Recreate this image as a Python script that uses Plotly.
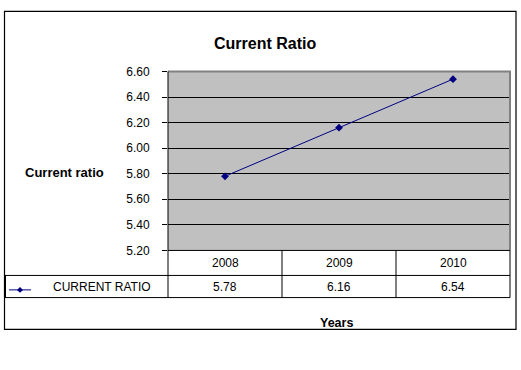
import plotly.graph_objects as go

W, H = 521, 370

# ---- data ----
years = ["2008", "2009", "2010"]
current_ratio = [5.78, 6.16, 6.54]
series_name = "CURRENT RATIO"
title_text = "Current Ratio"
y_title = "Current ratio"
x_title = "Years"
y_ticks = [5.20, 5.40, 5.60, 5.80, 6.00, 6.20, 6.40, 6.60]


def px(x):
    return x / W


def py(y):
    return (H - y) / H


FONT = "Liberation Sans, Arial, sans-serif"
PL, PR, PT, PB = 168, 510, 67, 253  # plot area pixel box
ROW1, ROW2 = 279, 302  # table row lines

fig = go.Figure()
fig.add_trace(go.Scatter(
    x=list(range(len(years))), y=current_ratio, mode="lines+markers",
    line=dict(color="#000080", width=1),
    marker=dict(symbol="diamond", size=6, color="#000080"),
    name=series_name, showlegend=False, hoverinfo="skip",
))

shapes = []


def hline(x0, x1, y, color="black", w=1):
    shapes.append(dict(type="line", xref="paper", yref="paper",
                       x0=px(x0), x1=px(x1), y0=py(y), y1=py(y),
                       line=dict(color=color, width=w), layer="above"))


def vline(x, y0, y1, color="black", w=1):
    shapes.append(dict(type="line", xref="paper", yref="paper",
                       x0=px(x), x1=px(x), y0=py(y0), y1=py(y1),
                       line=dict(color=color, width=w), layer="above"))


# outer frame
shapes.append(dict(type="rect", xref="paper", yref="paper",
                   x0=px(4.5), x1=px(516), y0=py(335), y1=py(4.5),
                   line=dict(color="black", width=1.2), layer="above"))
# plot area border top/right (gray)
hline(PL, PR + 1, PT, color="#808080", w=2)
vline(PR, PT, PB, color="#808080", w=2)
# table lines
hline(PL, PR, PB)
hline(5, PR, ROW1)
hline(5, PR, ROW2)
vline(5.5, ROW1, ROW2)
vline(PL, PT, ROW2)
ncol = len(years)
colw = (PR - PL) / ncol
for i in range(1, ncol + 1):
    vline(PL + i * colw, PB, ROW2)

# legend sample
hline(9, 31, 294, color="#000080", w=1)
shapes.append(dict(type="path", xref="paper", yref="paper",
                   path=f"M {px(17)} {py(294)} L {px(20)} {py(291)} L {px(23)} {py(294)} L {px(20)} {py(297)} Z",
                   fillcolor="#000080", line=dict(color="#000080", width=0), layer="above"))

annotations = []


def text(x, y, s, size=12, bold=False, xanchor="center"):
    annotations.append(dict(x=px(x), y=py(y), xref="paper", yref="paper",
                            text=f"<b>{s}</b>" if bold else s, showarrow=False,
                            xanchor=xanchor, yanchor="middle",
                            font=dict(family=FONT, size=size, color="black")))


text(265, 38, title_text, size=16, bold=True)
text(64, 172, y_title, size=13, bold=True)
text(336, 328, x_title, size=12.5, bold=True)
text(102, 291, series_name, size=12)
for i, (yr, v) in enumerate(zip(years, current_ratio)):
    cx = PL + (i + 0.5) * colw
    text(cx, 266, yr, size=12)
    text(cx, 291, f"{v:.2f}", size=12)

fig.update_layout(
    width=W, height=H,
    margin=dict(l=0, r=0, t=0, b=0),
    paper_bgcolor="white", plot_bgcolor="#C0C0C0",
    shapes=shapes, annotations=annotations,
    xaxis=dict(domain=[px(PL), px(PR)], range=[-0.5, ncol - 0.5],
               showticklabels=False, showgrid=False, zeroline=False,
               ticks="", showline=False, fixedrange=True),
    yaxis=dict(domain=[py(PB), py(PT)], range=[y_ticks[0], y_ticks[-1]],
               tickvals=y_ticks, ticktext=[f"{t:.2f}" for t in y_ticks],
               ticks="outside", ticklen=5, tickcolor="black", tickwidth=1,
               showgrid=True, gridcolor="black", gridwidth=1,
               zeroline=False, showline=False,
               ticklabelstandoff=10,
               tickfont=dict(family=FONT, size=12, color="black")),
    font=dict(family=FONT),
)

fig.write_html("out.html")
